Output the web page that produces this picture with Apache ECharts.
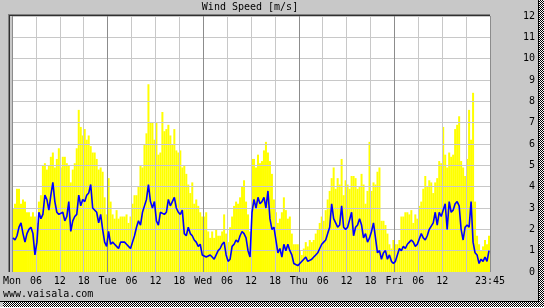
<!DOCTYPE html>
<html><head><meta charset="utf-8">
<script src="https://cdn.jsdelivr.net/npm/echarts@6/dist/echarts.min.js"></script>
<style>html,body{margin:0;padding:0;background:#fff}#c{width:544px;height:308px}</style>
</head><body><div id="c"></div>
<script>
// x tick labels every 6 hours (0..120 h)
const tickLabels = ['Mon','06','12','18','Tue','06','12','18','Wed','06','12','18','Thu','06','12','18','Fri','06','12','','23:45'];
const yTickValues = [0,1,2,3,4,5,6,7,8,9,10,11,12];

// 30-minute values, Mon 00:00 .. Fri 23:30
const avgSpeed = [
// Mon
1.6,1.5,1.7,2.1,2.3,1.8,1.4,1.8,2.0,2.1,1.8,0.8,1.4,2.8,2.5,2.7,3.6,3.4,2.9,3.6,4.2,3.3,2.8,2.7,2.7,2.8,2.4,2.6,3.3,1.9,2.4,2.6,2.7,3.6,3.1,3.4,3.3,3.6,3.7,4.1,3.0,3.0,2.8,2.3,2.7,2.0,1.4,1.2,
// Tue
1.9,1.3,1.4,1.3,1.2,1.1,1.4,1.4,1.4,1.3,1.2,1.1,1.4,1.7,2.1,2.4,2.2,2.8,3.1,3.4,4.1,3.3,3.0,3.3,2.4,2.2,2.8,2.8,2.7,2.8,3.4,3.1,3.3,3.5,3.0,2.8,2.7,2.9,1.8,1.7,2.1,1.8,1.7,1.5,1.4,1.2,1.3,0.8,
// Wed
0.8,0.7,0.7,0.8,0.7,0.6,0.8,1.0,1.1,1.3,1.4,0.8,0.5,0.6,1.2,1.3,1.5,1.4,1.7,1.9,1.8,1.6,1.0,0.7,2.8,3.4,3.0,3.5,3.2,3.3,3.5,3.0,3.8,2.5,2.0,2.1,1.5,0.9,1.1,0.7,1.3,1.0,1.3,1.0,0.8,0.4,0.4,0.3,
// Thu
0.4,0.4,0.6,0.7,0.5,0.5,0.6,0.7,0.8,0.9,1.1,1.3,1.4,1.5,1.8,2.1,3.2,2.5,2.3,2.1,2.2,3.1,2.1,2.0,2.1,2.1,2.8,1.7,2.1,2.2,2.5,2.2,1.6,1.8,1.4,1.6,1.9,2.3,1.6,0.9,1.0,0.6,0.9,1.0,0.6,0.8,0.5,0.4,
// Fri
0.5,0.5,1.1,1.0,1.2,1.1,1.3,1.4,1.5,1.4,1.2,1.3,1.3,1.8,1.6,1.5,1.7,2.0,2.0,2.3,2.8,2.2,2.8,2.6,2.6,3.2,2.0,3.3,2.8,2.9,3.2,3.3,3.1,2.0,1.5,2.1,2.2,2.1,3.3,1.4,0.9,0.8,0.4,0.6,0.5,0.7,0.5,1.0
];
const maxSpeed = [
// Mon
3.2,3.5,4.4,4.4,3.8,3.9,3.9,3.3,3.3,3.2,3.4,2.9,3.2,4.3,4.6,5.9,6.1,5.6,5.5,5.8,6.2,5.4,6.0,6.2,5.4,6.0,5.8,5.4,5.5,4.8,5.2,5.6,6.1,8.2,7.2,6.9,7.0,6.6,6.9,6.2,6.0,6.2,5.6,5.3,5.2,4.9,3.8,3.2,
// Tue
4.8,3.6,3.2,3.1,3.3,3.0,3.2,3.1,3.0,3.3,2.8,2.9,3.6,4.2,4.1,4.3,5.6,5.4,6.4,7.2,9.3,7.6,7.3,6.8,7.4,6.0,6.3,7.9,7.2,7.0,7.4,6.8,6.6,7.0,6.2,6.0,5.9,5.4,5.3,5.0,4.7,4.0,4.4,3.6,3.7,3.3,2.9,2.8,
// Wed
2.8,2.9,2.1,1.9,2.0,1.8,2.1,1.9,2.0,2.1,2.8,1.9,1.5,2.3,2.7,3.3,3.6,3.4,3.6,4.3,4.5,3.4,2.8,2.0,5.7,5.9,5.4,5.8,5.7,5.6,6.2,6.4,6.0,5.5,4.8,3.5,3.0,2.4,2.6,3.0,3.6,3.1,2.6,2.7,1.8,1.3,1.4,1.3,
// Thu
1.0,0.9,1.2,1.4,1.3,1.7,1.5,1.6,2.0,2.1,2.5,2.9,2.6,3.2,3.8,4.1,4.9,5.3,4.5,4.7,4.6,5.7,4.2,4.6,4.6,4.3,4.8,5.0,4.6,4.3,4.3,4.8,4.4,3.6,4.0,6.4,4.0,4.3,4.4,4.9,5.0,2.5,2.6,2.3,1.8,1.4,1.2,1.5,
// Fri
1.4,1.5,1.8,2.8,3.0,3.1,3.0,3.1,3.2,2.8,3.0,2.9,3.3,3.8,4.3,4.8,4.6,4.7,4.5,4.2,4.6,5.0,5.5,5.6,7.2,5.8,5.5,6.0,5.7,6.0,7.0,7.3,7.5,5.6,5.2,5.0,5.6,7.8,6.5,8.8,3.5,2.0,1.4,1.2,1.3,1.5,1.4,1.9
];
const minSpeed = [
// Mon
0.2,0.3,0.5,0.5,0.6,0.5,0.6,0.5,0.5,0.6,0.6,0.3,0.9,1.0,1.0,0.9,1.0,0.8,0.5,0.4,0.6,0.5,0.7,0.4,0.5,0.6,0.4,0.3,0.5,0.6,0.4,0.5,0.3,0.6,0.4,0.5,0.3,0.4,0.5,0.3,0.4,0.6,0.3,0.5,0.3,0.2,0.3,0.5,
// Tue
0.4,0.3,0.5,0.6,0.4,0.5,0.6,0.5,0.4,0.6,0.5,0.3,0.4,0.6,0.5,0.3,0.6,0.5,0.4,0.7,0.5,0.6,0.3,0.6,0.4,0.5,0.7,0.4,0.6,0.3,0.5,0.4,0.6,0.3,0.5,0.4,0.2,0.5,0.3,0.4,0.6,0.3,0.2,0.4,0.3,0.2,0.1,0.2,
// Wed
0.2,0.1,0.2,0.3,0.1,0.2,0.1,0.2,0.3,0.2,0.1,0.1,0.1,0.2,0.1,0.2,0.3,0.2,0.1,0.3,0.2,0.1,0.1,0.1,0.4,0.6,0.5,0.3,0.6,0.4,0.5,0.3,0.4,0.3,0.2,0.1,0.2,0.1,0.1,0.2,0.1,0.2,0.1,0.1,0.0,0.0,0.1,0.0,
// Thu
0.0,0.1,0.1,0.0,0.1,0.2,0.1,0.1,0.2,0.1,0.2,0.3,0.2,0.3,0.4,0.3,0.5,0.4,0.6,0.3,0.5,0.4,0.6,0.3,0.5,0.4,0.3,0.5,0.2,0.4,0.3,0.2,0.3,0.4,0.2,0.3,0.2,0.1,0.3,0.2,0.1,0.1,0.2,0.1,0.0,0.1,0.1,0.0,
// Fri
0.1,0.2,0.3,0.2,0.4,0.3,0.2,0.4,0.3,0.5,0.3,0.4,0.2,0.5,0.4,0.3,0.6,0.4,0.3,0.5,0.4,0.6,0.3,0.5,0.4,0.3,0.6,0.4,0.3,0.5,0.3,0.4,0.2,0.4,0.3,0.5,0.3,0.2,0.3,0.4,0.2,0.3,0.1,0.2,0.1,0.0,0.1,0.2
];

const STEP = 0.5; // hours per sample
const hourAt = i => i * STEP + STEP / 2;

const chart = echarts.init(document.getElementById('c'), null, {renderer: 'canvas'});

const pc = document.createElement('canvas');
pc.width = 2; pc.height = 2;
const g = pc.getContext('2d');
g.fillStyle = '#ffffff'; g.fillRect(0, 0, 2, 2);
g.fillStyle = '#000000'; g.fillRect(0, 0, 1, 1); g.fillRect(1, 1, 1, 1);

const MONO = "'DejaVu Sans Mono', monospace";

chart.setOption({
  animation: false,
  backgroundColor: '#c8c8c8',
  grid: {left: 10, right: 54, top: 16, bottom: 36, show: true, backgroundColor: '#ffffff', borderWidth: 0},
  xAxis: {
    type: 'value', min: 0, max: 120, interval: 6, z: 3,
    axisLine: {show: false}, axisTick: {show: false},
    splitLine: {show: true, lineStyle: {color: ['#8c8c8c', '#c8c8c8', '#c8c8c8', '#c8c8c8'], width: 1}},
    axisLabel: {
      formatter: v => tickLabels[Math.round(v / 6)],
      fontFamily: MONO, fontSize: 10, color: '#000', margin: 4,
      showMinLabel: true, showMaxLabel: true, hideOverlap: false
    }
  },
  yAxis: {
    type: 'value', position: 'right', min: yTickValues[0], max: yTickValues[yTickValues.length - 1], interval: 1, z: 3,
    axisLine: {show: false}, axisTick: {show: false},
    splitLine: {show: true, lineStyle: {color: '#c8c8c8', width: 1}},
    axisLabel: {fontFamily: MONO, fontSize: 10, color: '#000', align: 'right', margin: 45}
  },
  graphic: [
    {type: 'rect', z: 10, shape: {x: 539, y: 0, width: 5, height: 307}, style: {fill: {image: pc, repeat: 'repeat'}}},
    {type: 'rect', z: 10, shape: {x: 3, y: 302, width: 541, height: 5}, style: {fill: {image: pc, repeat: 'repeat'}}},
    {type: 'rect', z: 10, shape: {x: 0, y: 307, width: 544, height: 1}, style: {fill: '#ffffff'}},
    {type: 'line', z: 10, shape: {x1: 538.5, y1: 0, x2: 538.5, y2: 302}, style: {stroke: '#000', lineWidth: 1}},
    {type: 'line', z: 10, shape: {x1: 0, y1: 301.5, x2: 539, y2: 301.5}, style: {stroke: '#000', lineWidth: 1}},
    {type: 'line', z: 10, shape: {x1: 8, y1: 14.5, x2: 490, y2: 14.5}, style: {stroke: '#808080', lineWidth: 1}},
    {type: 'line', z: 10, shape: {x1: 9, y1: 15.5, x2: 490, y2: 15.5}, style: {stroke: '#303030', lineWidth: 1}},
    {type: 'line', z: 10, shape: {x1: 8.5, y1: 14, x2: 8.5, y2: 272}, style: {stroke: '#808080', lineWidth: 1}},
    {type: 'line', z: 10, shape: {x1: 9.5, y1: 15, x2: 9.5, y2: 272}, style: {stroke: '#303030', lineWidth: 1}},
    {type: 'text', z: 10, x: 250, y: 7, style: {text: 'Wind Speed [m/s]', fill: '#000', font: '10px ' + MONO, textAlign: 'center', textVerticalAlign: 'middle'}},
    {type: 'text', z: 10, x: 3, y: 294, style: {text: 'www.vaisala.com', fill: '#000', font: '10px ' + MONO, textAlign: 'left', textVerticalAlign: 'middle'}}
  ],
  series: [
    {type: 'bar', name: 'base', stack: 'gust', z: 2, barWidth: 2, silent: true,
     itemStyle: {color: 'rgba(0,0,0,0)'},
     data: minSpeed.map((v, i) => [hourAt(i), v])},
    {type: 'bar', name: 'range', stack: 'gust', z: 2, barWidth: 2, silent: true,
     itemStyle: {color: '#ffff00'},
     data: maxSpeed.map((v, i) => [hourAt(i), +(v - minSpeed[i]).toFixed(2)])},
    {type: 'line', name: 'avg', z: 5, symbol: 'none', silent: true,
     lineStyle: {color: '#0000ff', width: 1.6},
     data: avgSpeed.map((v, i) => [hourAt(i), v])}
  ]
});
</script></body></html>
